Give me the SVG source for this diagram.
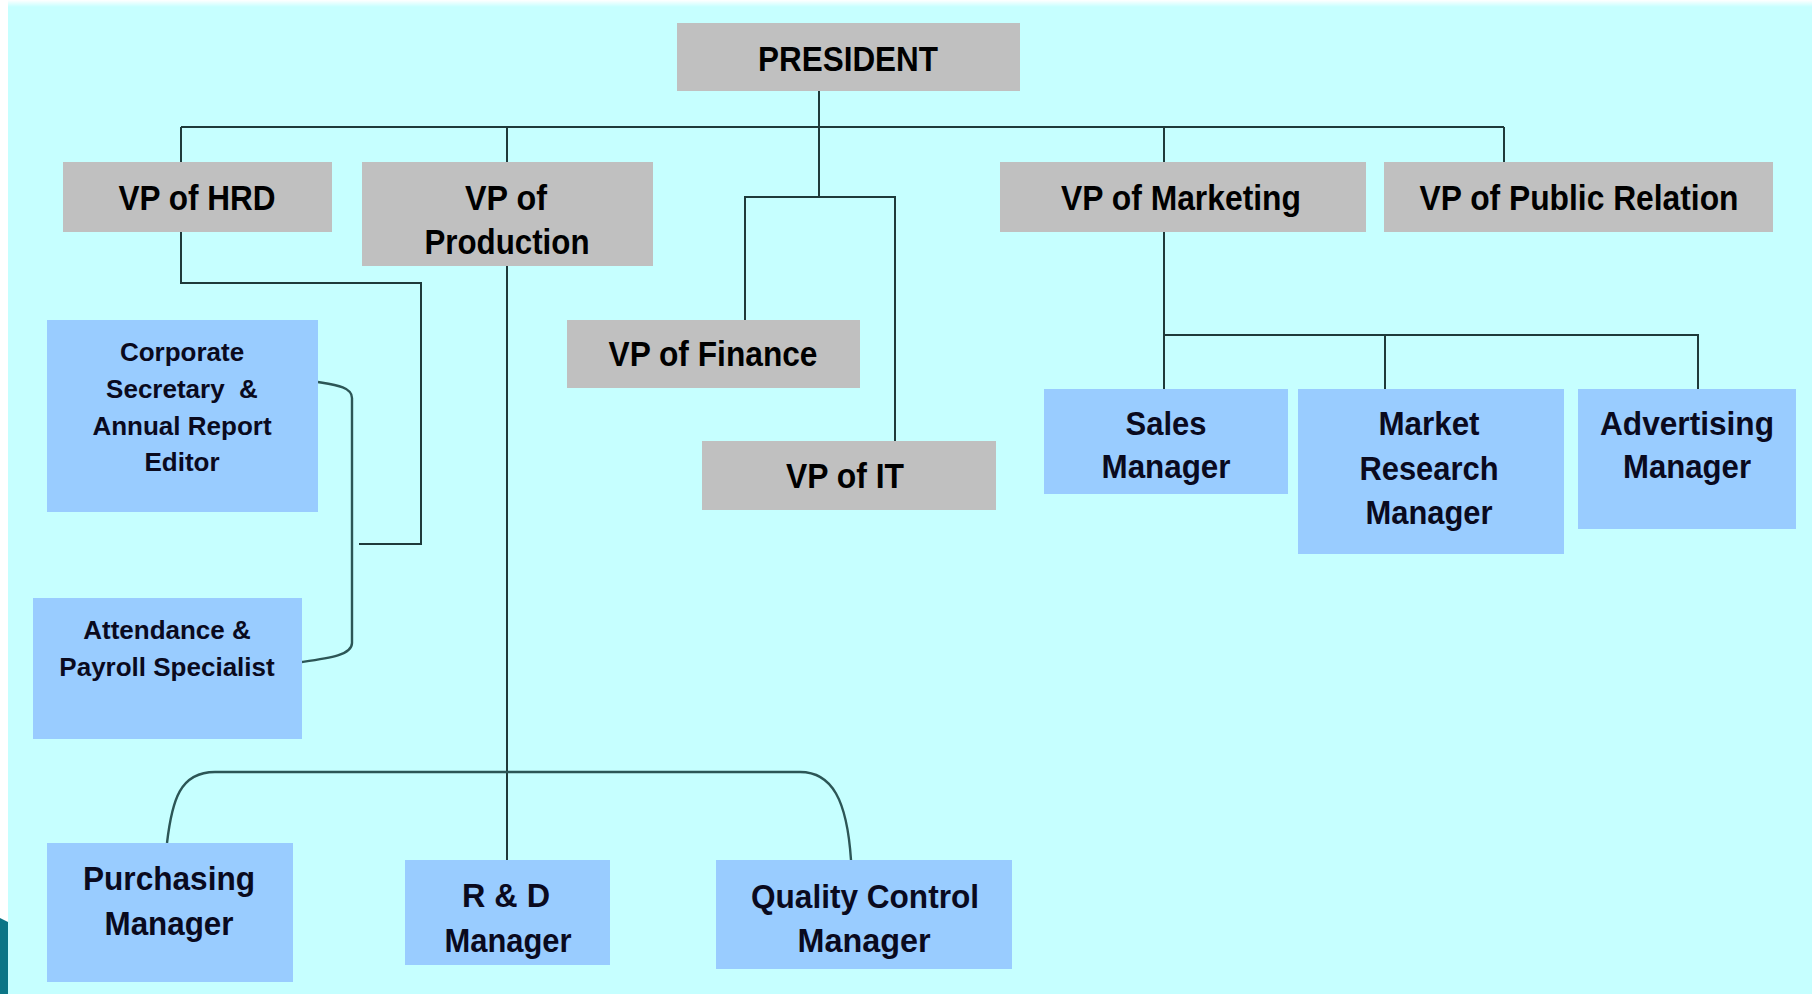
<svg xmlns="http://www.w3.org/2000/svg" width="1812" height="994" viewBox="0 0 1812 994">
<defs>
<linearGradient id="topfade" x1="0" y1="0" x2="0" y2="1">
<stop offset="0" stop-color="#ffffff"/>
<stop offset="1" stop-color="#c6ffff"/>
</linearGradient>
<style>
.bg{fill:#c6ffff}
.gray{fill:#c0c0c0}
.blue{fill:#99ccff}
.t{font-family:"Liberation Sans",Arial,sans-serif;font-weight:bold;font-size:35px;fill:#000;text-anchor:middle}
.m{font-family:"Liberation Sans",Arial,sans-serif;font-weight:bold;font-size:34px;fill:#0a0a1e;text-anchor:middle}
.s{font-family:"Liberation Sans",Arial,sans-serif;font-weight:bold;font-size:26px;fill:#0a0a1e;text-anchor:middle}
.ln{fill:none;stroke:#1e3a3a;stroke-width:2}
.cv{fill:none;stroke:#2c5656;stroke-width:2.4}
</style>
</defs>
<rect x="0" y="0" width="1812" height="994" fill="#ffffff"/>
<rect class="bg" x="8" y="0" width="1804" height="994"/>
<rect x="8" y="0" width="1804" height="7" fill="url(#topfade)"/>
<polygon points="0,918 8,922 8,994 0,994" fill="#0b7586"/>

<g id="connectors">
<path class="ln" d="M819,91 L819,197"/>
<path class="ln" d="M181,127 L1504,127"/>
<path class="ln" d="M181,127 L181,162"/>
<path class="ln" d="M507,127 L507,162"/>
<path class="ln" d="M1164,127 L1164,162"/>
<path class="ln" d="M1504,127 L1504,162"/>
<path class="ln" d="M745,320 L745,197 L895,197 L895,441"/>
<path class="ln" d="M181,232 L181,283 L421,283 L421,544 L359,544"/>
<path class="cv" d="M318,382 C336,385 352,387 352,398 L352,643 C352,655 330,658 302,662"/>
<path class="ln" d="M507,266 L507,860"/>
<path class="cv" d="M167,843 C172,800 180,772 215,772 L800,772 C832,772 847,800 851,860"/>
<path class="ln" d="M1164,232 L1164,389"/>
<path class="ln" d="M1164,335 L1698,335 L1698,389"/>
<path class="ln" d="M1385,335 L1385,389"/>
</g>

<g id="president">
<rect class="gray" x="677" y="23" width="343" height="68"/>
<text class="t" x="848" y="71" textLength="180" lengthAdjust="spacingAndGlyphs">PRESIDENT</text>
</g>
<g id="vp-hrd">
<rect class="gray" x="63" y="162" width="269" height="70"/>
<text class="t" x="197" y="210" textLength="157" lengthAdjust="spacingAndGlyphs">VP of HRD</text>
</g>
<g id="vp-production">
<rect class="gray" x="362" y="162" width="291" height="104"/>
<text class="t" x="506" y="210" textLength="82" lengthAdjust="spacingAndGlyphs">VP of</text>
<text class="t" x="507" y="254" textLength="165" lengthAdjust="spacingAndGlyphs">Production</text>
</g>
<g id="vp-marketing">
<rect class="gray" x="1000" y="162" width="366" height="70"/>
<text class="t" x="1181" y="210" textLength="240" lengthAdjust="spacingAndGlyphs">VP of Marketing</text>
</g>
<g id="vp-public-relation">
<rect class="gray" x="1384" y="162" width="389" height="70"/>
<text class="t" x="1579" y="210" textLength="319" lengthAdjust="spacingAndGlyphs">VP of Public Relation</text>
</g>
<g id="vp-finance">
<rect class="gray" x="567" y="320" width="293" height="68"/>
<text class="t" x="713" y="366" textLength="209" lengthAdjust="spacingAndGlyphs">VP of Finance</text>
</g>
<g id="vp-it">
<rect class="gray" x="702" y="441" width="294" height="69"/>
<text class="t" x="845" y="488" textLength="118" lengthAdjust="spacingAndGlyphs">VP of IT</text>
</g>
<g id="corporate-secretary">
<rect class="blue" x="47" y="320" width="271" height="192"/>
<text class="s" x="182" y="361">Corporate</text>
<text class="s" x="182" y="398" xml:space="preserve">Secretary  &amp;</text>
<text class="s" x="182" y="435">Annual Report</text>
<text class="s" x="182" y="471">Editor</text>
</g>
<g id="attendance-payroll">
<rect class="blue" x="33" y="598" width="269" height="141"/>
<text class="s" x="167" y="639">Attendance &amp;</text>
<text class="s" x="167" y="676">Payroll Specialist</text>
</g>
<g id="sales-manager">
<rect class="blue" x="1044" y="389" width="244" height="105"/>
<text class="m" x="1166" y="435" textLength="81" lengthAdjust="spacingAndGlyphs">Sales</text>
<text class="m" x="1166" y="478" textLength="129" lengthAdjust="spacingAndGlyphs">Manager</text>
</g>
<g id="market-research-manager">
<rect class="blue" x="1298" y="389" width="266" height="165"/>
<text class="m" x="1429" y="435" textLength="101" lengthAdjust="spacingAndGlyphs">Market</text>
<text class="m" x="1429" y="480" textLength="139" lengthAdjust="spacingAndGlyphs">Research</text>
<text class="m" x="1429" y="524" textLength="127" lengthAdjust="spacingAndGlyphs">Manager</text>
</g>
<g id="advertising-manager">
<rect class="blue" x="1578" y="389" width="218" height="140"/>
<text class="m" x="1687" y="435" textLength="174" lengthAdjust="spacingAndGlyphs">Advertising</text>
<text class="m" x="1687" y="478" textLength="128" lengthAdjust="spacingAndGlyphs">Manager</text>
</g>
<g id="purchasing-manager">
<rect class="blue" x="47" y="843" width="246" height="139"/>
<text class="m" x="169" y="890" textLength="172" lengthAdjust="spacingAndGlyphs">Purchasing</text>
<text class="m" x="169" y="935" textLength="129" lengthAdjust="spacingAndGlyphs">Manager</text>
</g>
<g id="rd-manager">
<rect class="blue" x="405" y="860" width="205" height="105"/>
<text class="m" x="506" y="907" textLength="88" lengthAdjust="spacingAndGlyphs">R &amp; D</text>
<text class="m" x="508" y="952" textLength="127" lengthAdjust="spacingAndGlyphs">Manager</text>
</g>
<g id="quality-control-manager">
<rect class="blue" x="716" y="860" width="296" height="109"/>
<text class="m" x="865" y="908" textLength="228" lengthAdjust="spacingAndGlyphs">Quality Control</text>
<text class="m" x="864" y="952" textLength="133" lengthAdjust="spacingAndGlyphs">Manager</text>
</g>
</svg>
